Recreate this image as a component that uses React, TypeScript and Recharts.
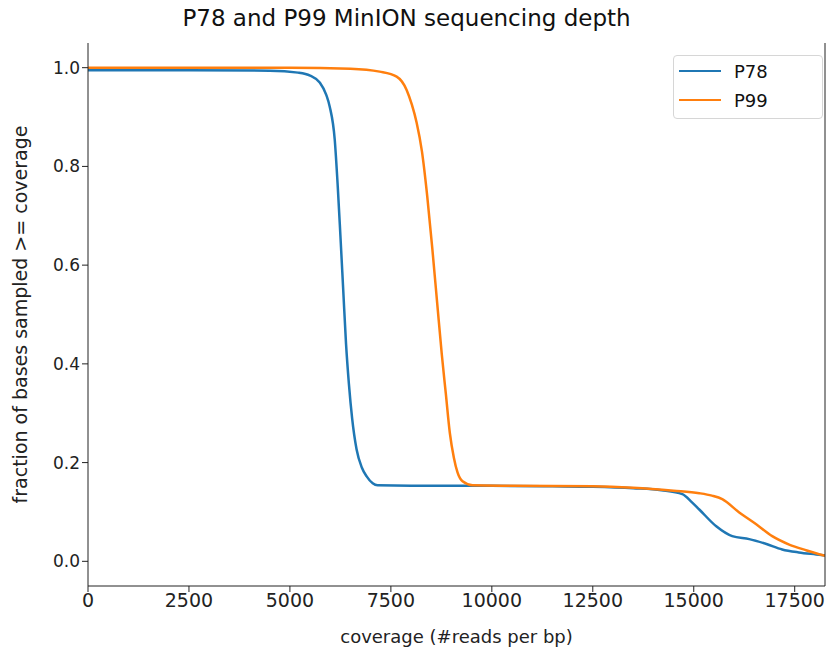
import React from 'react'
import { LineChart, Line, XAxis, YAxis } from 'recharts'

const p78Coverage = [
  0, 2500, 4500, 5200, 5500, 5738, 5900, 5986, 6110, 6184, 6250, 6320, 6390,
  6460, 6540, 6650, 6780, 6900, 7050, 7170, 8000, 10000, 11500, 12500, 13500,
  14200, 14717, 14950, 15137, 15557, 15953, 16374, 16800, 17190, 17600, 18030,
  18250,
]
const p78Fraction = [
  0.995, 0.995, 0.994, 0.99, 0.984, 0.97, 0.945, 0.921, 0.854, 0.76, 0.66,
  0.55, 0.44, 0.36, 0.29, 0.227, 0.19, 0.172, 0.158, 0.154, 0.153, 0.153,
  0.152, 0.151, 0.148, 0.144, 0.136, 0.12, 0.105, 0.071, 0.051, 0.045, 0.035,
  0.024, 0.018, 0.014, 0.012,
]
const p99Coverage = [
  0, 5000, 6500, 7222, 7643, 7890, 8020, 8137, 8270, 8400, 8530, 8650, 8760,
  8860, 8960, 9060, 9150, 9275, 9522, 10500, 12500, 13500, 14500, 15137, 15450,
  15706, 16126, 16547, 16943, 17363, 17800, 18250,
]
const p99Fraction = [
  1.0, 1.0, 0.998, 0.992, 0.982, 0.955, 0.925, 0.889, 0.83, 0.74, 0.63, 0.52,
  0.42, 0.34, 0.26, 0.21, 0.18, 0.162, 0.154, 0.153, 0.152, 0.149, 0.143,
  0.138, 0.133, 0.126, 0.099, 0.075, 0.051, 0.034, 0.022, 0.011,
]
const xTicks = [0, 2500, 5000, 7500, 10000, 12500, 15000, 17500]
const yTicks = [0, 0.2, 0.4, 0.6, 0.8, 1.0]

const p78 = p78Coverage.map((x, i) => ({ x, y: p78Fraction[i] }))
const p99 = p99Coverage.map((x, i) => ({ x, y: p99Fraction[i] }))

const font = '"DejaVu Sans", sans-serif'

function LegendBox() {
  const items = [
    { name: 'P78', color: '#1f77b4' },
    { name: 'P99', color: '#ff7f0e' },
  ]
  return (
    <div
      style={{
        position: 'absolute',
        left: 673,
        top: 55,
        width: 150,
        height: 64,
        border: '1px solid #d6d6d6',
        borderRadius: 4,
        background: '#fff',
        fontFamily: font,
        fontSize: 18,
        color: '#111',
        boxSizing: 'border-box',
      }}
    >
      {items.map((it, i) => (
        <div
          key={it.name}
          style={{
            position: 'absolute',
            left: 0,
            top: 4 + i * 29,
            height: 22,
            display: 'flex',
            alignItems: 'center',
          }}
        >
          <div
            style={{
              marginLeft: 5,
              width: 42,
              height: 2.5,
              background: it.color,
            }}
          />
          <span style={{ marginLeft: 13 }}>{it.name}</span>
        </div>
      ))}
    </div>
  )
}

export default function App() {
  return (
    <div
      style={{
        position: 'absolute',
        left: 0,
        top: 0,
        width: 826,
        height: 651,
        background: '#fff',
      }}
    >
      <LineChart
        width={826}
        height={651}
        margin={{ top: 43, right: 0, bottom: 0, left: 0 }}
        style={{ position: 'absolute', left: 0, top: 0 }}
      >
        <XAxis
          dataKey='x'
          type='number'
          domain={[0, 18250]}
          ticks={xTicks}
          allowDataOverflow
          height={65}
          stroke='#222'
          tickLine={{ stroke: '#222' }}
          tickSize={6}
          tick={{ fill: '#222', fontSize: 19, fontFamily: font }}
          label={{
            value: 'coverage (#reads per bp)',
            position: 'insideBottom',
            offset: 8,
            fill: '#222',
            fontSize: 18,
            fontFamily: font,
          }}
        />
        <XAxis
          xAxisId='top'
          orientation='top'
          dataKey='x'
          type='number'
          domain={[0, 18250]}
          height={0}
          tick={false}
          tickLine={false}
          stroke='#222'
        />
        <YAxis
          type='number'
          domain={[-0.05, 1.05]}
          ticks={yTicks}
          allowDataOverflow
          width={88}
          stroke='#222'
          tickSize={6}
          tickFormatter={(v: number) => v.toFixed(1)}
          tick={{ fill: '#222', fontSize: 17, fontFamily: font }}
          label={{
            value: 'fraction of bases sampled >= coverage',
            angle: -90,
            position: 'insideLeft',
            offset: 20,
            style: { textAnchor: 'middle' },
            fill: '#222',
            fontSize: 19,
            fontFamily: font,
          }}
        />
        <YAxis
          yAxisId='right'
          orientation='right'
          domain={[-0.05, 1.05]}
          width={1}
          tick={false}
          tickLine={false}
          stroke='#222'
        />
        <Line
          data={p78}
          dataKey='y'
          name='P78'
          type='monotone'
          stroke='#1f77b4'
          strokeWidth={2.5}
          dot={false}
          isAnimationActive={false}
        />
        <Line
          data={p99}
          dataKey='y'
          name='P99'
          type='monotone'
          stroke='#ff7f0e'
          strokeWidth={2.5}
          dot={false}
          isAnimationActive={false}
        />
      </LineChart>
      <div
        style={{
          position: 'absolute',
          left: 0,
          width: 813,
          top: 5,
          textAlign: 'center',
          fontFamily: font,
          fontSize: 23,
          color: '#111',
        }}
      >
        P78 and P99 MinION sequencing depth
      </div>
      <LegendBox />
    </div>
  )
}
